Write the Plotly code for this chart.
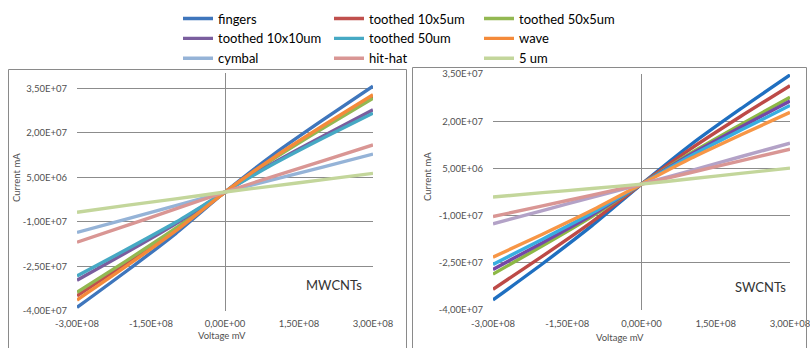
import plotly.graph_objects as go

# Voltage sweep points (mV)
voltage = [-3.0e8, -2.0e8, -1.0e8, 0.0, 1.0e8, 2.0e8, 3.0e8]

series_names = ["fingers", "toothed 10x5um", "toothed 50x5um", "toothed 10x10um",
                "toothed 50um", "wave", "cymbal", "hit-hat", "5 um"]

colors_mw = ["#3F76BC", "#C0504D", "#93B852", "#7A5E9E", "#46A9C4",
             "#F48A3A", "#95B3D7", "#D99694", "#C3D69B"]
colors_sw = ["#1F6FC0", "#BD4A47", "#8DB845", "#7547A6", "#38AEE0",
             "#F79646", "#B3A2C7", "#D99694", "#C3D69B"]

# Current (mA) for multi-walled CNT devices
mw_fingers = [-3.89e7, -2.67e7, -1.40e7, 0.0, 1.29e7, 2.45e7, 3.57e7]
mw_t10x5 = [-3.50e7, -2.40e7, -1.26e7, 0.0, 1.16e7, 2.21e7, 3.22e7]
mw_t50x5 = [-3.38e7, -2.32e7, -1.22e7, 0.0, 1.14e7, 2.17e7, 3.16e7]
mw_t10x10 = [-2.97e7, -2.04e7, -1.07e7, 0.0, 1.00e7, 1.90e7, 2.77e7]
mw_t50 = [-2.83e7, -1.94e7, -1.02e7, 0.0, 0.96e7, 1.83e7, 2.66e7]
mw_wave = [-3.64e7, -2.50e7, -1.31e7, 0.0, 1.18e7, 2.25e7, 3.28e7]
mw_cymbal = [-1.36e7, -0.91e7, -0.46e7, 0.0, 0.43e7, 0.85e7, 1.28e7]
mw_hithat = [-1.69e7, -1.13e7, -0.57e7, 0.0, 0.54e7, 1.06e7, 1.59e7]
mw_5um = [-6.8e6, -4.5e6, -2.3e6, 0.0, 2.1e6, 4.2e6, 6.3e6]

# Current (mA) for single-walled CNT devices
sw_fingers = [-3.68e7, -2.53e7, -1.32e7, 0.0, 1.26e7, 2.39e7, 3.47e7]
sw_t10x5 = [-3.34e7, -2.29e7, -1.20e7, 0.0, 1.13e7, 2.15e7, 3.13e7]
sw_t50x5 = [-2.86e7, -1.96e7, -1.03e7, 0.0, 0.99e7, 1.89e7, 2.76e7]
sw_t10x10 = [-2.71e7, -1.86e7, -0.98e7, 0.0, 0.95e7, 1.81e7, 2.64e7]
sw_t50 = [-2.55e7, -1.75e7, -0.92e7, 0.0, 0.90e7, 1.71e7, 2.50e7]
sw_wave = [-2.32e7, -1.59e7, -0.83e7, 0.0, 0.82e7, 1.56e7, 2.28e7]
sw_cymbal = [-1.26e7, -0.84e7, -0.42e7, 0.0, 0.43e7, 0.87e7, 1.30e7]
sw_hithat = [-1.03e7, -0.69e7, -0.35e7, 0.0, 0.37e7, 0.74e7, 1.11e7]
sw_5um = [-4.1e6, -2.7e6, -1.4e6, 0.0, 1.7e6, 3.4e6, 5.1e6]

mw_data = [mw_fingers, mw_t10x5, mw_t50x5, mw_t10x10, mw_t50,
           mw_wave, mw_cymbal, mw_hithat, mw_5um]
sw_data = [sw_fingers, sw_t10x5, sw_t50x5, sw_t10x10, sw_t50,
           sw_wave, sw_cymbal, sw_hithat, sw_5um]

x_ticks = [-3.0e8, -1.5e8, 0.0, 1.5e8, 3.0e8]
x_tick_text = ["-3,00E+08", "-1,50E+08", "0,00E+00", "1,50E+08", "3,00E+08"]
y_ticks = [-4.0e7, -2.5e7, -1.0e7, 5.0e6, 2.0e7, 3.5e7]
y_tick_text = ["-4,00E+07", "-2,50E+07", "-1,00E+07", "5,00E+06", "2,00E+07", "3,50E+07"]

W, H = 810, 348
FONT = "Lato"
GRID = "#8c8c8c"
TICK_COLOR = "#505050"
LEGEND_KEYS = ["legend", "legend2", "legend3"]

fig = go.Figure()

for i, (name, ys, col) in enumerate(zip(series_names, mw_data, colors_mw)):
    fig.add_trace(go.Scatter(x=voltage, y=ys, mode="lines", name=name,
                             line=dict(color=col, width=3.4, shape="spline", smoothing=0.6),
                             xaxis="x", yaxis="y", showlegend=True,
                             legend=LEGEND_KEYS[i % 3]))
for name, ys, col in zip(series_names, sw_data, colors_sw):
    fig.add_trace(go.Scatter(x=voltage, y=ys, mode="lines", name=name,
                             line=dict(color=col, width=3.4, shape="spline", smoothing=0.6),
                             xaxis="x2", yaxis="y2", showlegend=False))


def px_x(p):
    return p / W


def px_y(p):
    return 1 - p / H


xaxis_common = dict(range=[-3.0e8, 3.0e8], tickvals=x_ticks, ticktext=x_tick_text,
                    showgrid=False, zeroline=True, zerolinecolor=GRID, zerolinewidth=1,
                    showline=False, ticks="", ticklabelstandoff=6, automargin=False,
                    ticklabeloverflow="allow",
                    tickfont=dict(family=FONT, size=9.5, color=TICK_COLOR))
yaxis_common = dict(tickvals=y_ticks, ticktext=y_tick_text, showgrid=True,
                    gridcolor=GRID, gridwidth=1, zeroline=False, showline=False,
                    ticks="", ticklabelstandoff=9, automargin=False,
                    ticklabeloverflow="allow",
                    tickfont=dict(family=FONT, size=9.5, color=TICK_COLOR))


def legend_box(x_px):
    return dict(orientation="v", xref="container", yref="container",
                x=px_x(x_px), y=px_y(3.5), xanchor="left", yanchor="top",
                font=dict(family=FONT, size=13, color="#000000"),
                bgcolor="rgba(0,0,0,0)", itemwidth=30, traceorder="normal",
                tracegroupgap=0)


fig.update_layout(
    width=W, height=H, autosize=False,
    margin=dict(l=0, r=0, t=0, b=0, autoexpand=False),
    paper_bgcolor="white", plot_bgcolor="white",
    font=dict(family=FONT, color="#000000"),
    xaxis=dict(domain=[px_x(77), px_x(373)], anchor="y", **xaxis_common),
    yaxis=dict(domain=[px_y(310.7), px_y(73.4)], range=[-4.0e7, 4.0e7], anchor="x",
               **yaxis_common),
    xaxis2=dict(domain=[px_x(493), px_x(790)], anchor="y2", **xaxis_common),
    yaxis2=dict(domain=[px_y(310), px_y(74)], range=[-4.0e7, 3.5e7], anchor="x2",
                **yaxis_common),
    legend=legend_box(178),
    legend2=legend_box(329),
    legend3=legend_box(479),
    showlegend=True,
)

# Chart frames
frame_style = dict(color="#8a8a8a", width=1)
fig.add_shape(type="rect", xref="paper", yref="paper",
              x0=px_x(8.5), x1=px_x(406.5), y0=px_y(352), y1=px_y(69.5), line=frame_style)
fig.add_shape(type="rect", xref="paper", yref="paper",
              x0=px_x(412.5), x1=px_x(806.5), y0=px_y(352), y1=px_y(67.5), line=frame_style)

label_font = dict(family=FONT, size=9.5, color=TICK_COLOR)
annotations = [
    dict(text="Current mA", x=px_x(16), y=px_y(178), textangle=-90, font=label_font),
    dict(text="Current mA", x=px_x(427), y=px_y(177), textangle=-90, font=label_font),
    dict(text="Voltage mV", x=px_x(222), y=px_y(335), font=label_font),
    dict(text="Voltage mV", x=px_x(620), y=px_y(337), font=label_font),
    dict(text="MWCNTs", x=px_x(334), y=px_y(285), font=dict(family=FONT, size=13, color="#333333")),
    dict(text="SWCNTs", x=px_x(760), y=px_y(287), font=dict(family=FONT, size=13, color="#333333")),
]
for a in annotations:
    fig.add_annotation(xref="paper", yref="paper", showarrow=False,
                       xanchor="center", yanchor="middle", **a)

fig.write_html("out.html")
